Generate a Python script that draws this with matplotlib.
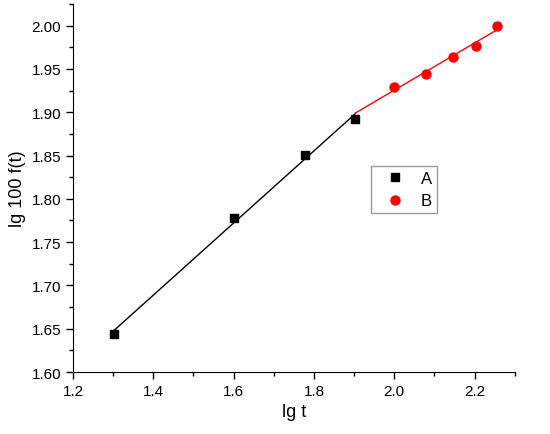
import numpy as np
import matplotlib
matplotlib.use('Agg')
import matplotlib.pyplot as plt
from matplotlib.ticker import MultipleLocator

plt.rcParams['font.family'] = ['Liberation Sans', 'DejaVu Sans']

# series A (squares) and B (circles)
xa = [1.301, 1.602, 1.778, 1.903]
ya = [1.644, 1.778, 1.851, 1.892]
xb = [2.000, 2.079, 2.146, 2.204, 2.255]
yb = [1.929, 1.944, 1.964, 1.977, 2.000]

fig = plt.figure(figsize=(5.5, 4.35), dpi=100)
ax = fig.add_axes([0.1327, 0.1425, 0.8033, 0.846])

# linear fits
pa = np.polyfit(xa, ya, 1)
pb = np.polyfit(xb, yb, 1)
fx_a = np.array([xa[0], xa[-1]])
fx_b = np.array([xa[-1], xb[-1]])
ax.plot(fx_a, np.polyval(pa, fx_a), color='black', lw=1)
ax.plot(fx_b, np.polyval(pb, fx_b), color='red', lw=1)

ax.plot(xa, ya, 's', color='black', ms=6, label='A')
ax.plot(xb, yb, 'o', color='red', ms=6.5, label='B')

ax.set_xlim(1.2, 2.3)
ax.set_ylim(1.6, 2.025)
ax.xaxis.set_major_locator(MultipleLocator(0.2))
ax.xaxis.set_minor_locator(MultipleLocator(0.1))
ax.yaxis.set_major_locator(MultipleLocator(0.05))
ax.yaxis.set_minor_locator(MultipleLocator(0.025))
ax.xaxis.set_major_formatter(plt.FormatStrFormatter('%.1f'))
ax.yaxis.set_major_formatter(plt.FormatStrFormatter('%.2f'))
ax.tick_params(which='major', direction='out', length=5, width=1, labelsize=11)
ax.tick_params(which='minor', direction='out', length=3, width=1)
ax.spines['top'].set_visible(False)
ax.spines['right'].set_visible(False)

ax.set_xlabel('lg t', fontsize=13)
ax.set_ylabel('lg 100 f(t)', fontsize=13)

leg = ax.legend(loc='upper left', bbox_to_anchor=(0.674, 0.56), borderaxespad=0,
                fontsize=12, frameon=True, fancybox=False, edgecolor='gray',
                handlelength=2.3, handletextpad=0.4, borderpad=0.3,
                labelspacing=0.45)
leg.get_frame().set_linewidth(1)

plt.savefig('out.png', dpi=100)
